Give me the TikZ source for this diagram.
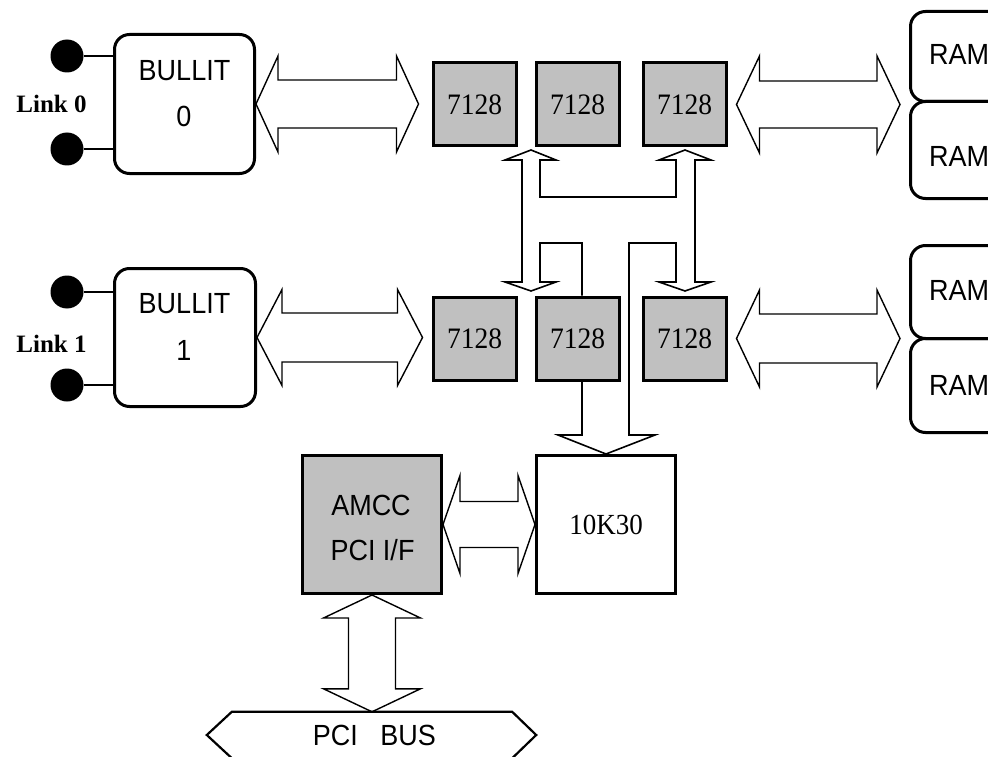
\documentclass[tikz,border=0pt]{standalone}
\usepackage{fontspec}
\usepackage{graphicx}
\setmainfont{Liberation Serif}
\setsansfont{Liberation Sans}
\usetikzlibrary{calc}
\definecolor{chipgray}{HTML}{C0C0C0}
\newcommand\tallt[1]{\scalebox{1}[1.08]{#1}}
\tikzset{
  box/.style={draw, line width=3pt, inner sep=0pt},
  chip/.style={box, fill=chipgray, minimum width=83pt, minimum height=83pt, font=\fontsize{27.5}{30}\selectfont},
  rbox/.style={box, rounded corners=15pt},
  sans/.style={font=\sffamily\fontsize{27}{30}\selectfont, inner sep=0pt},
  linklbl/.style={font=\bfseries\fontsize{25}{30}\selectfont, inner sep=0pt},
  dot/.style={circle, fill=black, draw=none, minimum size=33pt, inner sep=0pt},
  wire/.style={draw, line width=2pt},
  fat/.style={draw, line width=1.4pt, line join=miter},
  bus/.style={draw, line width=1.6pt, line join=miter},
}
\newcommand\hfat[5]{\draw[fat] let \p1=(#1), \p2=(#2) in
  (\x1,\y1) -- (\x1+#5,\y1+#4) -- (\x1+#5,\y1+#3) -- (\x2-#5,\y1+#3) -- (\x2-#5,\y1+#4) -- (\x2,\y1)
  -- (\x2-#5,\y1-#4) -- (\x2-#5,\y1-#3) -- (\x1+#5,\y1-#3) -- (\x1+#5,\y1-#4) -- cycle;}
\newcommand\vfat[5]{\draw[fat] let \p1=(#1), \p2=(#2) in
  (\x1,\y1) -- (\x1+#4,\y1-#5) -- (\x1+#3,\y1-#5) -- (\x1+#3,\y2+#5) -- (\x1+#4,\y2+#5) -- (\x1,\y2)
  -- (\x1-#4,\y2+#5) -- (\x1-#3,\y2+#5) -- (\x1-#3,\y1-#5) -- (\x1-#4,\y1-#5) -- cycle;}
\begin{document}
\begin{tikzpicture}[x=1pt, y=-1pt]
\useasboundingbox (0,0) rectangle (988,757);
\clip (0,0) rectangle (988,757);

% BULLIT boxes
\node[rbox, minimum width=140pt, minimum height=139pt] (b0) at (184.5,104) {};
\node[sans, anchor=base] (b0t) at (184.5,80.5) {\tallt{BULLIT}};
\node[sans, anchor=base] (b0n) at (184,127) {\tallt{0}};
\node[rbox, minimum width=141pt, minimum height=138pt] (b1) at (185,337.5) {};
\node[sans, anchor=base] (b1t) at (184.5,313) {\tallt{BULLIT}};
\node[sans, anchor=base] (b1n) at (184,360) {\tallt{1}};

% links
\node[dot] (c00) at (67,56) {};
\node[dot] (c01) at (67,149) {};
\node[dot] (c10) at (67,292) {};
\node[dot] (c11) at (67,385) {};
\draw[wire] (c00) -- (c00 -| b0.west);
\draw[wire] (c01) -- (c01 -| b0.west);
\draw[wire] (c10) -- (c10 -| b1.west);
\draw[wire] (c11) -- (c11 -| b1.west);
\node[linklbl, anchor=base] (l0) at (51.5,113) {Link 0};
\node[linklbl, anchor=base] (l1) at (51.5,352) {Link 1};

% 7128 chips
\node[chip] (t1) at (474.5,104.5) {\tallt{7128}};
\node[chip] (t2) at (577.5,104.5) {\tallt{7128}};
\node[chip] (t3) at (684.5,104.5) {\tallt{7128}};
\node[chip] (u1) at (474.5,338.5) {\tallt{7128}};
\node[chip] (u2) at (577.5,338.5) {\tallt{7128}};
\node[chip] (u3) at (684.5,338.5) {\tallt{7128}};

% RAM
\node[rbox, anchor=north west, minimum width=160pt, minimum height=90pt] (ram1) at (909,10) {};
\node[rbox, anchor=north west, minimum width=160pt, minimum height=97pt] (ram2) at (909,100) {};
\node[rbox, anchor=north west, minimum width=160pt, minimum height=93pt] (ram3) at (909,244) {};
\node[rbox, anchor=north west, minimum width=160pt, minimum height=94pt] (ram4) at (909,337) {};
\node[sans, anchor=base west] (r1t) at (929,65) {\tallt{RAM}};
\node[sans, anchor=base west] (r2t) at (929,167) {\tallt{RAM}};
\node[sans, anchor=base west] (r3t) at (929,300) {\tallt{RAM}};
\node[sans, anchor=base west] (r4t) at (929,395) {\tallt{RAM}};

% 10K30 and AMCC
\node[box, minimum width=139pt, minimum height=138pt, font=\fontsize{27}{30}\selectfont] (k) at (606,524.5) {\tallt{10K30}};
\node[box, fill=chipgray, minimum width=139pt, minimum height=138pt] (amcc) at (372,524.5) {};
\node[sans, anchor=base] (at1) at (371,515) {\tallt{AMCC}};
\node[sans, anchor=base] (at2) at (372.5,560) {\tallt{PCI I/F}};

% PCI bus
\node[sans, minimum width=329pt, minimum height=46pt] (pci) at (371.5,735) {\hspace{6pt}\tallt{PCI~~~BUS}};
\draw[bus, line width=2.2pt] (pci.west) -- ([xshift=25pt]pci.north west) -- ([xshift=-24pt]pci.north east)
  -- (pci.east) -- ([xshift=-24pt]pci.south east) -- ([xshift=25pt]pci.south west) -- cycle;

% fat double arrows
\hfat{b0.east}{[xshift=-13pt]t1.west}{24}{48}{22}
\hfat{b1.east}{[xshift=-9pt]u1.west}{24.5}{48}{25}
\hfat{[xshift=9pt]t3.east}{[xshift=-9pt]ram2.north west}{23.5}{48.5}{23}
\hfat{[xshift=9pt]u3.east}{[xshift=-9pt]ram4.north west}{24.5}{48.5}{23}
\hfat{amcc.east}{k.west}{23}{49}{17}
\vfat{amcc.south}{pci.north}{23.5}{48.5}{23}

% internal bus between the rows and down to 10K30
\draw[bus] ([xshift=4.5pt]u2.north) -- (582,243) -- (540,243) -- (540,282) -- (556,282) -- (531,291)
  -- (505,282) -- (522,282) -- (522,160) -- (505,160) -- (531,150) -- (556,160) -- (540,160)
  -- (540,197) -- (676,197) -- (676,160) -- (659,160) -- (685,150) -- (711,160) -- (695,160)
  -- (695,282) -- (711,282) -- (685,291) -- (659,282) -- (676,282) -- (676,243) -- (629,243)
  -- (629,435) -- (655,435) -- (k.north) -- (558,435) -- (582,435) -- ([xshift=4.5pt]u2.south);
\end{tikzpicture}
\end{document}
